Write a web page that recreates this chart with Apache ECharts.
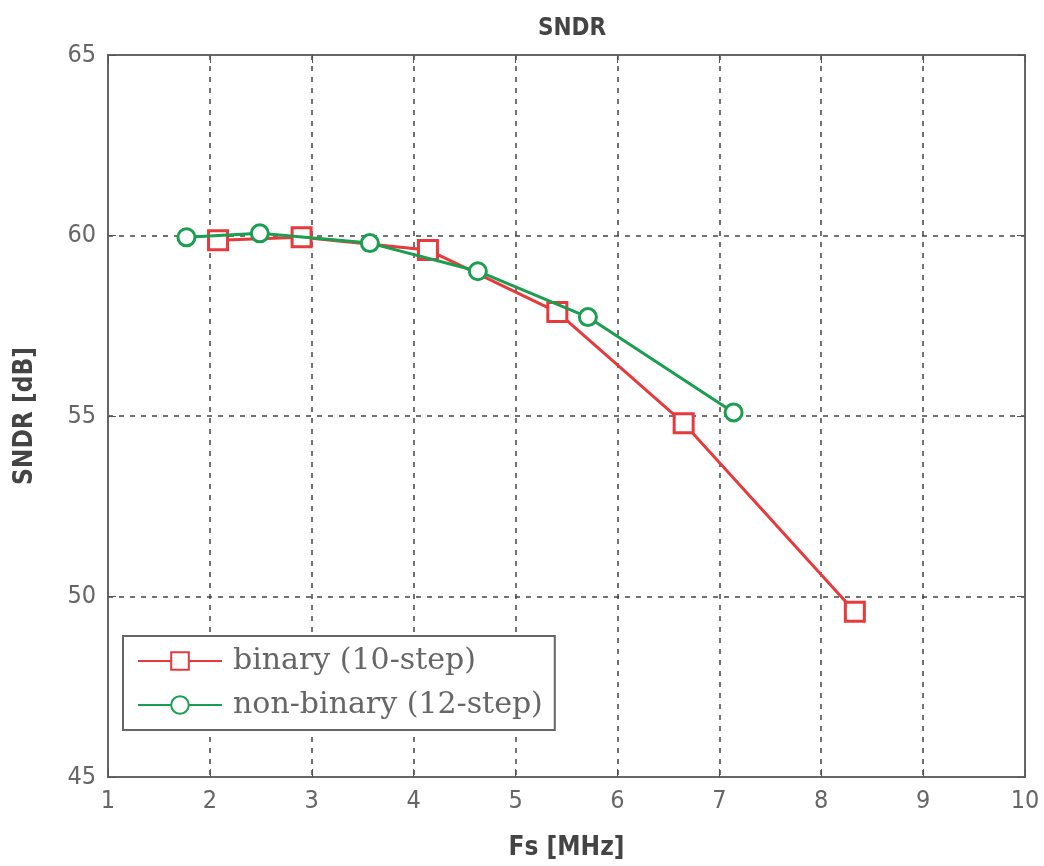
<!DOCTYPE html>
<html><head><meta charset="utf-8">
<script src="https://cdn.jsdelivr.net/npm/echarts@6/dist/echarts.min.js"></script>
<style>html,body{margin:0;padding:0;background:#fff}#c{width:1044px;height:866px}</style>
</head><body><div id="c"></div>
<script>
const binaryX = [2.08, 2.90, 4.14, 5.41, 6.65, 8.33];
const binaryY = [59.87, 59.95, 59.6, 57.88, 54.8, 49.58];
const nonBinaryX = [1.77, 2.49, 3.57, 4.63, 5.71, 7.14];
const nonBinaryY = [59.95, 60.06, 59.79, 59.01, 57.74, 55.1];
const xTicks = [1,2,3,4,5,6,7,8,9,10];
const yTicks = [45,50,55,60,65];
const seriesNames = ['binary (10-step)', 'non-binary (12-step)'];

const zip = (a,b)=>a.map((v,i)=>[v,b[i]]);
const chart = echarts.init(document.getElementById('c'));
const tickFont = {fontFamily:'DejaVu Sans Condensed, Liberation Sans Narrow, Liberation Sans', fontSize:25, color:'#666'};
const gridDash = {show:true, lineStyle:{type:[5,6], color:'#444', width:1.5}};
chart.setOption({
  animation:false,
  title:{text:'SNDR', left:567, top:12, textAlign:'center', textStyle:{fontFamily:'DejaVu Sans Condensed, Liberation Sans', fontSize:24, fontWeight:'bold', color:'#444'}},
  grid:{left:108, right:19, top:55, bottom:86, show:true, borderColor:'#666', borderWidth:2},
  legend:{
    left:123, top:636, orient:'vertical',
    padding:[10,12,10,14], itemGap:14,
    borderColor:'#666', borderWidth:2, backgroundColor:'#fff',
    itemWidth:84, itemHeight:22,
    textStyle:{fontFamily:'DejaVu Serif, Liberation Serif', fontSize:30, color:'#666', padding:[0,0,0,6]},
    data: seriesNames
  },
  xAxis:[{type:'value', min:1, max:10, interval:1, position:'bottom',
    name:'Fs [MHz]', nameLocation:'middle', nameGap:58,
    nameTextStyle:{fontFamily:'DejaVu Sans Condensed, Liberation Sans', fontSize:26, fontWeight:'bold', color:'#444'},
    axisLine:{show:true, lineStyle:{color:'#666', width:2}},
    axisTick:{show:true, inside:true, length:8, lineStyle:{color:'#555'}},
    axisLabel:Object.assign({margin:12, formatter:v=>xTicks.includes(v)?String(v):''}, tickFont),
    splitLine:gridDash},
   {type:'value', min:1, max:10, interval:1, position:'top',
    axisLine:{show:true, lineStyle:{color:'#666', width:2}},
    axisTick:{show:true, inside:true, length:8, lineStyle:{color:'#555'}},
    axisLabel:{show:false}, splitLine:{show:false}}],
  yAxis:[{type:'value', min:45, max:65, interval:5,
    name:'SNDR [dB]', nameLocation:'middle', nameGap:70, nameRotate:90,
    nameTextStyle:{fontFamily:'DejaVu Sans Condensed, Liberation Sans', fontSize:26, fontWeight:'bold', color:'#444'},
    axisLine:{show:true, lineStyle:{color:'#666', width:2}},
    axisTick:{show:true, inside:true, length:8, lineStyle:{color:'#555'}},
    axisLabel:Object.assign({margin:12, formatter:v=>yTicks.includes(v)?String(v):''}, tickFont),
    splitLine:gridDash},
   {type:'value', min:45, max:65, interval:5, position:'right',
    axisLine:{show:true, lineStyle:{color:'#666', width:2}},
    axisTick:{show:true, inside:true, length:8, lineStyle:{color:'#555'}},
    axisLabel:{show:false}, splitLine:{show:false}}],
  series:[
    {name:seriesNames[0], type:'line', data:zip(binaryX,binaryY),
     symbol:'rect', symbolSize:19, itemStyle:{color:'#fff', borderColor:'#e8393c', borderWidth:3},
     lineStyle:{color:'#e8393c', width:3}, color:'#e8393c', z:2},
    {name:seriesNames[1], type:'line', data:zip(nonBinaryX,nonBinaryY),
     symbol:'circle', symbolSize:17, itemStyle:{color:'#fff', borderColor:'#1a9e4f', borderWidth:3},
     lineStyle:{color:'#1a9e4f', width:3}, color:'#1a9e4f', z:3}
  ]
});
</script></body></html>
